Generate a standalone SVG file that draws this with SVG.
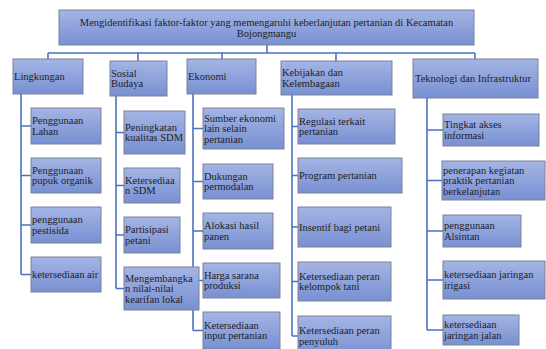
<svg xmlns="http://www.w3.org/2000/svg" width="546" height="349" viewBox="0 0 546 349">
<defs>
<linearGradient id="g" x1="0" y1="0" x2="0" y2="1">
<stop offset="0" stop-color="#A4B5E4"/>
<stop offset="1" stop-color="#7890D2"/>
</linearGradient>
</defs>
<style>
.b{fill:url(#g);stroke:#7D8296;stroke-width:1}
.t{font-family:"Liberation Serif","Times New Roman",serif;font-size:10.5px;fill:#1E1E28}
.c{fill:none;stroke:#4A72C2;stroke-width:1.6}
</style>
<rect width="546" height="349" fill="#FFFFFF"/>
<g id="connectors">
<path class="c" d="M267,45V53M48,53H475M48,53V59M138,53V61M222,53V59M336,53V61M475,53V59"/>
<path class="c" d="M21,94V274.5M21,126H31M21,175.5H31M21,225H31M21,274.5H31"/>
<path class="c" d="M116,96V288.5M116,132.5H124M116,185.5H124M116,235H124M116,288.5H124"/>
<path class="c" d="M193,94V330.5M193,128.5H203M193,181.5H203M193,231H203M193,280.5H203M193,330.5H203"/>
<path class="c" d="M292,95V336M292,126.5H298M292,175.5H298M292,227H298M292,281.5H298M292,336H298"/>
<path class="c" d="M427,98V330M427,130H443M427,180.5H442M427,231H443M427,280H443M427,330H443"/>
</g>
<g id="root">
<rect class="b" x="59" y="10" width="415" height="35"/>
<text class="t" x="266.5" y="25.5" text-anchor="middle">Mengidentifikasi faktor-faktor yang memengaruhi keberlanjutan pertanian di Kecamatan</text>
<text class="t" x="266.5" y="36.5" text-anchor="middle">Bojongmangu</text>
</g>
<g id="lingkungan">
<rect class="b" x="13" y="59" width="70" height="35"/>
<text class="t" x="14" y="80">Lingkungan</text>
</g>
<g id="sosial">
<rect class="b" x="110" y="61" width="57" height="35"/>
<text class="t" x="111" y="76.75">Sosial</text>
<text class="t" x="111" y="87.25">Budaya</text>
</g>
<g id="ekonomi">
<rect class="b" x="187" y="59" width="69" height="35"/>
<text class="t" x="188" y="80">Ekonomi</text>
</g>
<g id="kebijakan">
<rect class="b" x="281" y="61" width="111" height="34"/>
<text class="t" x="282" y="76.25">Kebijakan dan</text>
<text class="t" x="282" y="86.75">Kelembagaan</text>
</g>
<g id="teknologi">
<rect class="b" x="413" y="59" width="125" height="39"/>
<text class="t" x="415" y="82">Teknologi dan Infrastruktur</text>
</g>
<g id="l1">
<rect class="b" x="31" y="108" width="70" height="36"/>
<text class="t" x="32" y="124.25">Penggunaan</text>
<text class="t" x="32" y="134.75">Lahan</text>
</g>
<g id="l2">
<rect class="b" x="31" y="158" width="70" height="35"/>
<text class="t" x="32" y="173.75">Penggunaan</text>
<text class="t" x="32" y="184.25">pupuk organik</text>
</g>
<g id="l3">
<rect class="b" x="31" y="207" width="70" height="36"/>
<text class="t" x="32" y="223.25">penggunaan</text>
<text class="t" x="32" y="233.75">pestisida</text>
</g>
<g id="l4">
<rect class="b" x="31" y="257" width="70" height="35"/>
<text class="t" x="32" y="278">ketersediaan air</text>
</g>
<g id="s1">
<rect class="b" x="124" y="111" width="61" height="43"/>
<text class="t" x="125" y="130.75">Peningkatan</text>
<text class="t" x="125" y="141.25">kualitas SDM</text>
</g>
<g id="s2">
<rect class="b" x="124" y="168" width="56" height="35"/>
<text class="t" x="125" y="183.75">Ketersediaa</text>
<text class="t" x="125" y="194.25">n SDM</text>
</g>
<g id="s3">
<rect class="b" x="124" y="217" width="56" height="36"/>
<text class="t" x="125" y="233.25">Partisipasi</text>
<text class="t" x="125" y="243.75">petani</text>
</g>
<g id="s4">
<rect class="b" x="124" y="267" width="75" height="43"/>
<text class="t" x="125" y="281.5">Mengembangka</text>
<text class="t" x="125" y="292">n nilai-nilai</text>
<text class="t" x="125" y="302.5">kearifan lokal</text>
</g>
<g id="e1">
<rect class="b" x="203" y="108" width="81" height="41"/>
<text class="t" x="204" y="121.5">Sumber ekonomi</text>
<text class="t" x="204" y="132">lain selain</text>
<text class="t" x="204" y="142.5">pertanian</text>
</g>
<g id="e2">
<rect class="b" x="203" y="164" width="70" height="35"/>
<text class="t" x="204" y="179.75">Dukungan</text>
<text class="t" x="204" y="190.25">permodalan</text>
</g>
<g id="e3">
<rect class="b" x="203" y="213" width="70" height="36"/>
<text class="t" x="204" y="229.25">Alokasi hasil</text>
<text class="t" x="204" y="239.75">panen</text>
</g>
<g id="e4">
<rect class="b" x="203" y="263" width="77" height="35"/>
<text class="t" x="204" y="278.75">Harga sarana</text>
<text class="t" x="204" y="289.25">produksi</text>
</g>
<g id="e5">
<rect class="b" x="203" y="312" width="77" height="37"/>
<text class="t" x="204" y="328.75">Ketersediaan</text>
<text class="t" x="204" y="339.25">input pertanian</text>
</g>
<g id="k1">
<rect class="b" x="298" y="109" width="97" height="35"/>
<text class="t" x="299" y="124.75">Regulasi terkait</text>
<text class="t" x="299" y="135.25">pertanian</text>
</g>
<g id="k2">
<rect class="b" x="298" y="158" width="104" height="35"/>
<text class="t" x="299" y="179">Program pertanian</text>
</g>
<g id="k3">
<rect class="b" x="298" y="207" width="93" height="40"/>
<text class="t" x="299" y="230.5">Insentif bagi petani</text>
</g>
<g id="k4">
<rect class="b" x="298" y="262" width="93" height="39"/>
<text class="t" x="299" y="279.75">Ketersediaan peran</text>
<text class="t" x="299" y="290.25">kelompok tani</text>
</g>
<g id="k5">
<rect class="b" x="298" y="316" width="93" height="40"/>
<text class="t" x="299" y="334.25">Ketersediaan peran</text>
<text class="t" x="299" y="344.75">penyuluh</text>
</g>
<g id="t1">
<rect class="b" x="443" y="114" width="96" height="32"/>
<text class="t" x="444" y="128.25">Tingkat akses</text>
<text class="t" x="444" y="138.75">informasi</text>
</g>
<g id="t2">
<rect class="b" x="442" y="161" width="103" height="39"/>
<text class="t" x="443" y="173.5">penerapan kegiatan</text>
<text class="t" x="443" y="184">praktik pertanian</text>
<text class="t" x="443" y="194.5">berkelanjutan</text>
</g>
<g id="t3">
<rect class="b" x="443" y="215" width="78" height="32"/>
<text class="t" x="444" y="229.25">penggunaan</text>
<text class="t" x="444" y="239.75">Alsintan</text>
</g>
<g id="t4">
<rect class="b" x="443" y="261" width="102" height="38"/>
<text class="t" x="444" y="278.25">ketersediaan jaringan</text>
<text class="t" x="444" y="288.75">irigasi</text>
</g>
<g id="t5">
<rect class="b" x="443" y="315" width="76" height="30"/>
<text class="t" x="444" y="328.25">ketersediaan</text>
<text class="t" x="444" y="338.75">jaringan jalan</text>
</g>
</svg>
